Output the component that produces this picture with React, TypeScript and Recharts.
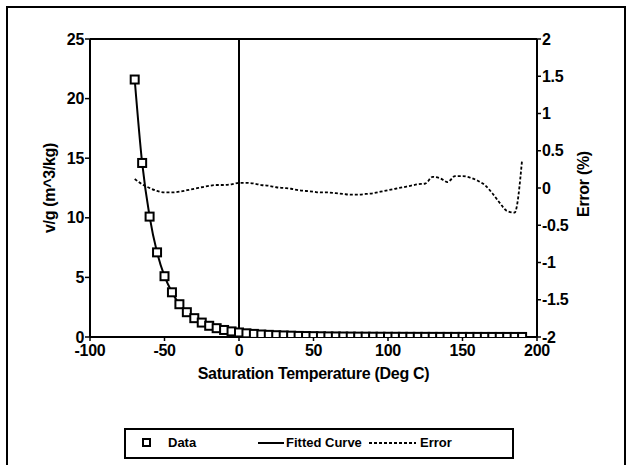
import React from 'react';
import { ComposedChart, Line, XAxis, YAxis, ReferenceLine, Label } from 'recharts';

// saturation temperature (deg C)
const temps = [
  -70, -65, -60, -55, -50, -45, -40, -35, -30, -25, -20, -15, -10, -5, 0,
  5, 10, 15, 20, 25, 30, 35, 40, 45, 50, 55, 60, 65, 70, 75, 80, 85, 90, 95,
  100, 105, 110, 115, 120, 125, 130, 135, 140, 145, 150, 155, 160, 165, 170,
  175, 180, 185, 190,
];

// vfg (m^3/kg), data points (fitted curve passes through them)
const vfg = [
  21.6, 14.6, 10.1, 7.1, 5.1, 3.75, 2.75, 2.08, 1.58, 1.21, 0.94, 0.74, 0.59, 0.47, 0.38,
  0.31, 0.26, 0.21, 0.18, 0.15, 0.13, 0.11, 0.09, 0.08, 0.07, 0.06, 0.05, 0.045, 0.04, 0.035,
  0.03, 0.027, 0.024, 0.021, 0.019, 0.017, 0.015, 0.013, 0.012, 0.011, 0.01, 0.009, 0.008,
  0.0075, 0.007, 0.0065, 0.006, 0.0055, 0.005, 0.0045, 0.004, 0.0035, 0.003,
];

// error of fit (%)
const errorPct = [
  0.12, 0.05, 0.0, -0.04, -0.06, -0.06, -0.05, -0.03, -0.01, 0.01, 0.03, 0.04, 0.04, 0.05, 0.07,
  0.07, 0.06, 0.04, 0.03, 0.01, 0.0, -0.01, -0.03, -0.04, -0.05, -0.06, -0.06, -0.07, -0.08, -0.09,
  -0.09, -0.08, -0.07, -0.05, -0.03, -0.01, 0.01, 0.03, 0.05, 0.06, 0.15, 0.13, 0.08,
  0.16, 0.16, 0.14, 0.1, 0.04, -0.07, -0.2, -0.31, -0.33, 0.38,
];

const xTicks = [-100, -50, 0, 50, 100, 150, 200];
const leftTicks = [0, 5, 10, 15, 20, 25];
const rightTicks = [-2, -1.5, -1, -0.5, 0, 0.5, 1, 1.5, 2];

const rows = temps.map((t, i) => ({ t, vfg: vfg[i], err: errorPct[i] }));

const FONT = '"Liberation Sans", Arial, sans-serif';
const tickStyle = { fill: '#000', fontSize: 16, fontWeight: 700, fontFamily: FONT, letterSpacing: -0.3 };
const axisStroke = { stroke: '#000', strokeWidth: 2 };

const SquareDot = (props: any) => {
  const { cx, cy } = props;
  if (cx == null || cy == null) return null;
  return <rect x={cx - 4} y={cy - 4} width={8} height={8} fill="#fff" stroke="#000" strokeWidth={2} />;
};

const App: React.FC = () => {
  return (
    <div style={{ position: 'absolute', left: 0, top: 0, width: 631, height: 465, background: '#fff', overflow: 'hidden' }}>
      <div
        style={{
          position: 'absolute', left: 6, top: 6, width: 620, height: 480,
          border: '2px solid #000', boxSizing: 'border-box',
        }}
      />
      <ComposedChart
        width={631}
        height={465}
        data={rows}
        margin={{ top: 39, right: 0, bottom: 0, left: 0 }}
        style={{ position: 'absolute', left: 0, top: 0 }}
      >
        <XAxis
          dataKey="t"
          type="number"
          domain={[-100, 200]}
          ticks={xTicks}
          height={128}
          interval={0}
          axisLine={axisStroke}
          tickLine={{ stroke: '#000', strokeWidth: 1.5 }}
          tickSize={4}
          tickMargin={4}
          tick={tickStyle}
          allowDataOverflow
        >
          <Label
            content={({ viewBox }: any) => (
              <text
                x={viewBox.x + viewBox.width / 2}
                y={viewBox.y + 42}
                textAnchor="middle"
                style={tickStyle}
              >
                Saturation Temperature (Deg C)
              </text>
            )}
          />
        </XAxis>
        <YAxis
          yAxisId="left"
          domain={[0, 25]}
          ticks={leftTicks}
          width={90}
          interval={0}
          axisLine={axisStroke}
          tickLine={{ stroke: '#000', strokeWidth: 1.5 }}
          tickSize={5}
          tickMargin={1}
          tick={tickStyle}
          allowDataOverflow
        >
          <Label
            content={() => (
              <text x={49} y={188} textAnchor="middle" dominantBaseline="central" transform="rotate(-90, 49, 188)" style={tickStyle}>
                v/g  (m^3/kg)
              </text>
            )}
          />
        </YAxis>
        <YAxis
          yAxisId="right"
          orientation="right"
          domain={[-2, 2]}
          ticks={rightTicks}
          width={94}
          interval={0}
          axisLine={axisStroke}
          tickLine={{ stroke: '#000', strokeWidth: 1.5 }}
          tickSize={4}
          tickMargin={1}
          tick={tickStyle}
          allowDataOverflow
        >
          <Label
            content={() => (
              <text x={583} y={184} textAnchor="middle" dominantBaseline="central" transform="rotate(-90, 583, 184)" style={tickStyle}>
                Error  (%)
              </text>
            )}
          />
        </YAxis>
        <ReferenceLine yAxisId="left" y={25} stroke="#000" strokeWidth={2} />
        <ReferenceLine yAxisId="left" x={0} stroke="#000" strokeWidth={2} />
        <Line
          yAxisId="left"
          dataKey="vfg"
          type="monotone"
          stroke="#000"
          strokeWidth={2}
          dot={false}
          activeDot={false}
          isAnimationActive={false}
        />
        <Line
          yAxisId="left"
          dataKey="vfg"
          stroke="none"
          dot={<SquareDot />}
          activeDot={false}
          isAnimationActive={false}
        />
        <Line
          yAxisId="right"
          dataKey="err"
          type="monotone"
          stroke="#000"
          strokeWidth={1.8}
          strokeDasharray="3 2"
          dot={false}
          activeDot={false}
          isAnimationActive={false}
        />
      </ComposedChart>
      {/* legend */}
      <div
        style={{
          position: 'absolute', left: 124, top: 428, width: 390, height: 31,
          border: '2px solid #000', boxSizing: 'border-box',
          fontFamily: FONT, fontWeight: 700, fontSize: 13, color: '#000',
        }}
      >
        <svg width={386} height={27} style={{ position: 'absolute', left: 0, top: 0 }}>
          <rect x={17} y={9} width={7} height={7} fill="#fff" stroke="#000" strokeWidth={2} />
          <line x1={132} y1={13} x2={158} y2={13} stroke="#000" strokeWidth={2} />
          <line x1={243} y1={13} x2={290} y2={13} stroke="#000" strokeWidth={1.8} strokeDasharray="3 2" />
        </svg>
        <span style={{ position: 'absolute', left: 42, top: 5 }}>Data</span>
        <span style={{ position: 'absolute', left: 160, top: 5 }}>Fitted Curve</span>
        <span style={{ position: 'absolute', left: 294, top: 5 }}>Error</span>
      </div>
    </div>
  );
};

export default App;
